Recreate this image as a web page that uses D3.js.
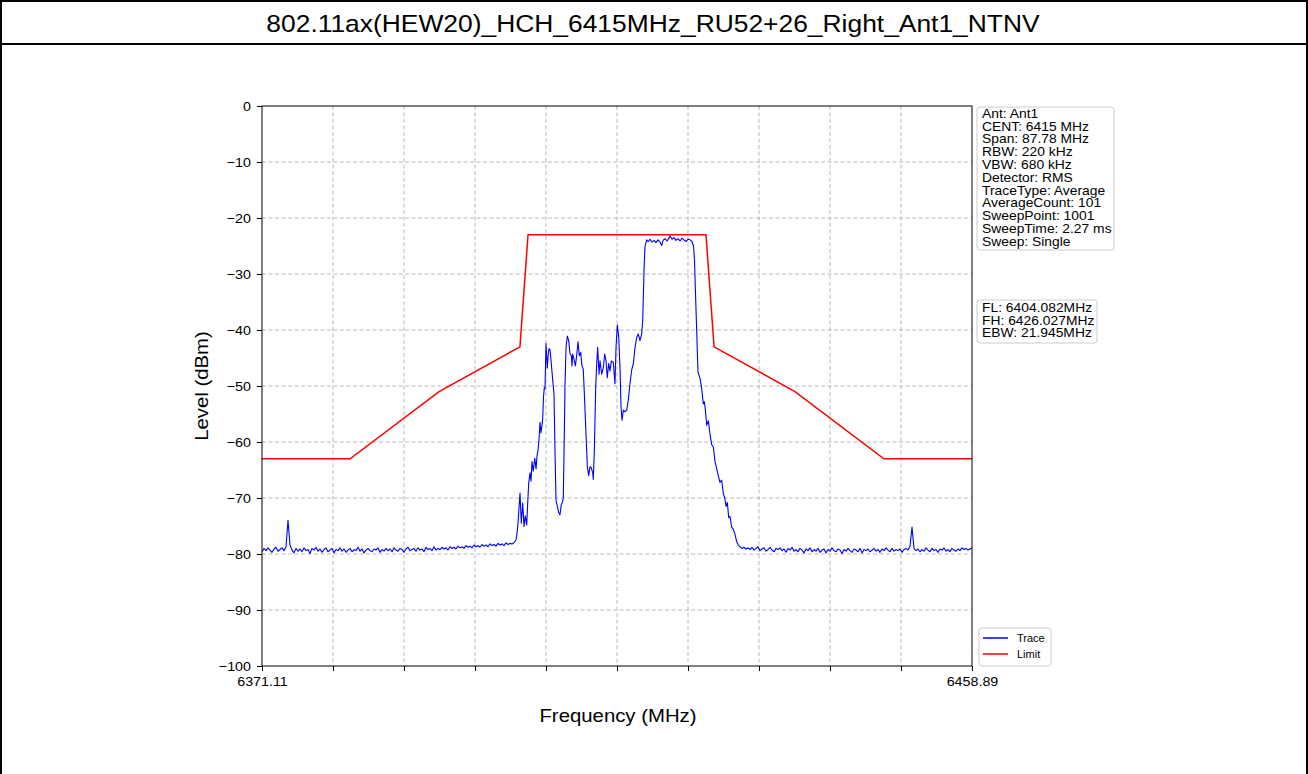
<!DOCTYPE html>
<html><head><meta charset="utf-8">
<script src="https://cdn.jsdelivr.net/npm/d3@7"></script>
<style>
body{margin:0;background:#fff;}
svg{display:block;}
text{font-family:"Liberation Sans",Arial,sans-serif;fill:#000;}
</style>
</head><body>
<svg id="c" width="1308" height="774"></svg>
<script>
// ---------------- data ----------------
const titleText = "802.11ax(HEW20)_HCH_6415MHz_RU52+26_Right_Ant1_NTNV";
const xLabel = "Frequency (MHz)";
const yLabel = "Level (dBm)";
const freqMin = 6371.11, freqMax = 6458.89;
const levelMin = -100, levelMax = 0;
const xTickCount = 11;
const xTickLabels = ["6371.11", "6458.89"];
const yTicks = [0, -10, -20, -30, -40, -50, -60, -70, -80, -90, -100];

const limitFreq  = [6371.11, 6382.0, 6393.0, 6403.0, 6404.0, 6426.0, 6427.0, 6437.0, 6448.0, 6458.89];
const limitLevel = [-63, -63, -51, -43, -23, -23, -43, -51, -63, -63];

const floorLowStart = 6371.11, floorLowEnd = 6401.77;
const floorLowLevels = [
-79.6,-79.0,-79.4,-78.9,-79.3,-79.7,-79.1,-78.8,-79.5,-79.2,-78.9,-79.4,-78.7,-74.0,-78.4,-79.3,-79.8,-79.0,-79.5,-79.1,
-79.6,-78.9,-79.4,-79.2,-79.9,-79.0,-79.3,-78.8,-79.5,-79.1,-79.7,-79.2,-78.9,-79.6,-79.3,-79.0,-79.8,-79.2,-79.4,-78.9,
-79.5,-79.1,-79.7,-79.3,-79.0,-79.6,-79.2,-79.4,-78.8,-79.5,-79.1,-79.8,-79.3,-79.0,-79.4,-79.6,-79.1,-79.3,-78.9,-79.7,
-79.2,-79.5,-79.0,-79.4,-79.1,-79.6,-78.9,-79.3,-79.5,-79.0,-79.2,-79.7,-79.1,-78.8,-79.4,-79.2,-79.0,-79.5,-78.9,-79.3,
-79.1,-79.6,-78.8,-79.2,-79.0,-79.4,-78.7,-79.3,-79.0,-79.2,-78.8,-79.1,-78.9,-79.3,-78.7,-79.0,-78.8,-79.1,-78.6,-78.9,
-78.7,-79.0,-78.5,-78.8,-78.6,-78.9,-78.4,-78.7,-78.5,-78.8,-78.3,-78.6,-78.4,-78.7,-78.2,-78.5,-78.3,-78.6,-78.1,-78.4,
-78.2,-78.5,-78.0,-78.3,-78.1];

const signalFreq = [
6402.02,6402.27,6402.51,6402.64,6402.76,6403.01,6403.17,6403.34,6403.50,6403.66,6403.84,6403.94,6404.08,6404.24,6404.37,
6404.49,6404.65,6404.83,6404.99,6405.11,6405.23,6405.36,6405.48,6405.60,6405.81,6405.91,6406.01,6406.10,6406.22,6406.38,
6406.49,6406.59,6406.72,6406.84,6407.05,6407.21,6407.34,6407.46,6407.62,6407.79,6407.95,6408.11,6408.29,6408.36,6408.45,
6408.57,6408.70,6408.86,6409.03,6409.19,6409.35,6409.44,6409.52,6409.68,6409.85,6410.02,6410.18,6410.34,6410.51,6410.67,
6410.83,6410.96,6411.13,6411.33,6411.50,6411.66,6411.82,6412.00,6412.07,6412.19,6412.37,6412.49,6412.61,6412.78,6412.90,
6413.11,6413.31,6413.48,6413.64,6413.80,6413.97,6414.14,6414.30,6414.54,6414.75,6414.88,6415.04,6415.21,6415.37,6415.50,
6415.62,6415.78,6415.99,6416.20,6416.40,6416.61,6416.82,6417.02,6417.23,6417.44,6417.63,6417.84,6418.05,6418.18,6418.34,
6418.46,6418.67,6418.83,6419.08,6419.33,6419.58,6419.82,6420.07,6420.32,6420.53,6420.69,6420.94,6421.18,6421.43,6421.55,
6421.80,6422.05,6422.29,6422.54,6422.79,6423.04,6423.28,6423.53,6423.78,6424.03,6424.27,6424.46,6424.58,6424.68,6424.85,
6425.01,6425.26,6425.47,6425.67,6425.79,6425.92,6426.09,6426.29,6426.50,6426.71,6426.91,6427.12,6427.33,6427.52,6427.73,
6427.94,6428.14,6428.32,6428.48,6428.64,6428.81,6428.97,6429.18,6429.38,6429.59,6429.80,6430.00,6430.21,6430.45,6430.70,
6430.95];
const signalLevel = [
-78.2,-78.0,-77.5,-76.3,-74.5,-69.1,-74.5,-70.9,-75.1,-73.2,-74.8,-71.5,-67.4,-65.5,-67.0,
-63.5,-65.2,-62.9,-64.8,-62.5,-61.5,-59.5,-56.5,-58.4,-56.0,-52.0,-50.3,-50.5,-42.4,-46.8,
-44.5,-43.3,-43.6,-45.4,-48.9,-51.5,-62.0,-70.4,-71.5,-72.6,-73.0,-71.2,-70.6,-70.0,-62.0,
-50.1,-43.0,-41.1,-41.9,-44.2,-44.6,-46.4,-44.3,-45.2,-46.4,-44.5,-42.1,-44.6,-44.0,-46.4,
-47.0,-51.3,-57.3,-64.4,-66.0,-64.4,-64.6,-65.5,-66.7,-62.0,-50.1,-46.0,-43.1,-47.9,-45.5,
-47.9,-46.7,-44.3,-45.5,-48.5,-46.0,-47.3,-45.5,-45.8,-49.6,-43.1,-39.1,-41.2,-46.7,-53.7,
-56.1,-54.3,-54.6,-54.3,-52.5,-49.5,-47.1,-46.0,-43.1,-41.3,-40.7,-41.9,-40.7,-38.2,-29.3,
-25.1,-23.9,-24.2,-23.8,-24.3,-24.0,-24.4,-23.9,-24.3,-24.9,-24.0,-23.7,-24.1,-23.6,-23.2,
-23.8,-23.5,-24.0,-23.7,-24.1,-23.6,-23.9,-24.2,-23.8,-23.9,-24.2,-25.0,-27.5,-32.3,-40.0,
-47.5,-48.6,-50.5,-53.2,-52.8,-54.2,-57.0,-56.2,-58.6,-60.5,-60.9,-63.5,-64.8,-66.0,-67.2,
-66.8,-69.2,-70.0,-71.5,-70.8,-73.5,-73.3,-75.2,-75.6,-76.5,-77.8,-78.4,-78.7,-79.0,-78.8,
-79.1];

const floorHighStart = 6431.20, floorHighEnd = 6458.89;
const floorHighLevels = [
-78.9,-79.2,-78.8,-79.3,-79.0,-78.7,-79.4,-79.1,-78.9,-79.5,-79.2,-78.8,-79.3,-79.6,-79.0,-79.2,-78.9,-79.4,-79.1,-79.7,
-79.0,-79.3,-78.8,-79.5,-79.2,-79.6,-79.0,-79.3,-79.8,-79.1,-79.4,-78.9,-79.6,-79.2,-79.5,-79.0,-79.7,-79.3,-79.1,-79.8,
-79.2,-79.5,-78.9,-79.4,-79.6,-79.1,-79.3,-79.9,-79.2,-79.5,-79.0,-79.4,-79.7,-79.1,-79.3,-79.6,-79.0,-79.8,-79.2,-79.4,
-79.1,-79.6,-79.3,-79.0,-79.5,-79.2,-79.7,-79.1,-79.4,-78.9,-79.3,-79.6,-79.0,-79.5,-79.2,-79.4,-79.1,-79.7,-79.2,-79.0,
-79.3,-78.6,-75.2,-79.0,-79.4,-79.1,-79.6,-79.2,-79.5,-78.9,-79.3,-79.6,-79.0,-79.4,-79.2,-79.7,-79.1,-79.3,-78.9,-79.5,
-79.2,-79.6,-79.0,-79.3,-79.5,-79.1,-79.4,-78.9,-79.2,-79.0,-79.3,-79.1,-78.9];

const infoLines = ["Ant: Ant1","CENT: 6415 MHz","Span: 87.78 MHz","RBW: 220 kHz","VBW: 680 kHz","Detector: RMS",
  "TraceType: Average","AverageCount: 101","SweepPoint: 1001","SweepTime: 2.27 ms","Sweep: Single"];
const bwLines = ["FL: 6404.082MHz","FH: 6426.027MHz","EBW: 21.945MHz"];
const legendNames = ["Trace","Limit"];
const seriesColors = ["#0000ff","#ff0000"];

// ---------------- layout ----------------
const W = 1308, H = 774;
const plot = {left: 262, right: 972, top: 106, bottom: 666};
const SX = 1.1; // horizontal glyph stretch

const svg = d3.select("#c");

function stretched(sel, sx) {
  sel.each(function() {
    const t = d3.select(this);
    const x0 = +t.attr("x") || 0;
    t.attr("transform", `translate(${x0},0) scale(${sx},1) translate(${-x0},0)`);
  });
}

// outer frame
const frame = svg.append("g").attr("stroke", "#000").attr("stroke-width", 2);
frame.append("line").attr("x1", 0).attr("x2", W).attr("y1", 1).attr("y2", 1);
frame.append("line").attr("x1", 0).attr("x2", W).attr("y1", 44).attr("y2", 44);
frame.append("line").attr("x1", 1).attr("x2", 1).attr("y1", 0).attr("y2", H);
frame.append("line").attr("x1", W - 1).attr("x2", W - 1).attr("y1", 0).attr("y2", H);

// title
svg.append("text").attr("x", 653).attr("y", 32).attr("text-anchor", "middle")
  .style("font-size", "24px").text(titleText).call(stretched, SX);

const x = d3.scaleLinear().domain([freqMin, freqMax]).range([plot.left, plot.right]);
const y = d3.scaleLinear().domain([levelMin, levelMax]).range([plot.bottom, plot.top]);
const xTicks = d3.range(xTickCount).map(i => freqMin + i * (freqMax - freqMin) / (xTickCount - 1));

// grid
const grid = svg.append("g").attr("stroke", "#a8a8a8").attr("stroke-width", 0.8).attr("stroke-dasharray", "4,2.5");
grid.selectAll(".gx").data(xTicks.slice(1, -1)).join("line")
  .attr("x1", d => x(d)).attr("x2", d => x(d)).attr("y1", plot.top).attr("y2", plot.bottom);
grid.selectAll(".gy").data(yTicks.filter(d => d !== levelMin && d !== levelMax)).join("line")
  .attr("y1", d => y(d)).attr("y2", d => y(d)).attr("x1", plot.left).attr("x2", plot.right);

// data lines
const trace = [];
floorLowLevels.forEach((v, i) => trace.push([floorLowStart + i * (floorLowEnd - floorLowStart) / (floorLowLevels.length - 1), v]));
signalLevel.forEach((v, i) => trace.push([signalFreq[i], v]));
floorHighLevels.forEach((v, i) => trace.push([floorHighStart + i * (floorHighEnd - floorHighStart) / (floorHighLevels.length - 1), v]));
const limit = limitFreq.map((f, i) => [f, limitLevel[i]]);

svg.append("clipPath").attr("id", "clip").append("rect")
  .attr("x", plot.left).attr("y", plot.top).attr("width", plot.right - plot.left).attr("height", plot.bottom - plot.top);
const line = d3.line().x(d => x(d[0])).y(d => y(d[1]));
const lines = svg.append("g").attr("clip-path", "url(#clip)");
lines.append("path").datum(trace).attr("d", line).attr("fill", "none")
  .attr("stroke", seriesColors[0]).attr("stroke-width", 1.1).attr("stroke-linejoin", "round");
lines.append("path").datum(limit).attr("d", line).attr("fill", "none")
  .attr("stroke", seriesColors[1]).attr("stroke-width", 1.5);

// axes
const yAxis = svg.append("g").attr("transform", `translate(${plot.left},0)`)
  .call(d3.axisLeft(y).tickValues(yTicks).tickSize(5).tickPadding(6).tickFormat(d3.format("d")));
const xAxis = svg.append("g").attr("transform", `translate(0,${plot.bottom})`)
  .call(d3.axisBottom(x).tickValues(xTicks).tickSize(5).tickPadding(6)
    .tickFormat((d, i) => i === 0 ? xTickLabels[0] : (i === xTickCount - 1 ? xTickLabels[1] : "")));
[yAxis, xAxis].forEach(a => {
  a.select(".domain").remove();
  a.selectAll(".tick line").attr("stroke", "#000").attr("stroke-width", 1);
  a.selectAll("text").style("font-size", "13px").style("font-family", '"Liberation Sans",Arial,sans-serif').call(stretched, SX);
});
// frame box
svg.append("rect").attr("x", plot.left).attr("y", plot.top).attr("width", plot.right - plot.left)
  .attr("height", plot.bottom - plot.top).attr("fill", "none").attr("stroke", "#000").attr("stroke-width", 1);

// axis labels
svg.append("text").attr("x", 618).attr("y", 722).attr("text-anchor", "middle")
  .style("font-size", "18.5px").text(xLabel).call(stretched, SX);
svg.append("g").attr("transform", `translate(208,${(plot.top + plot.bottom) / 2}) rotate(-90)`)
  .append("text").attr("x", 0).attr("y", 0).attr("text-anchor", "middle")
  .style("font-size", "18.5px").text(yLabel).call(stretched, SX);

// info boxes
function infoBox(lines, bx, by, bw, bh, firstCenter, step, fs) {
  const g = svg.append("g");
  g.append("rect").attr("x", bx).attr("y", by).attr("width", bw).attr("height", bh).attr("rx", 3)
    .attr("fill", "#fff").attr("stroke", "#cccccc").attr("stroke-width", 1);
  g.selectAll("text").data(lines).join("text").attr("x", bx + 5).attr("y", (d, i) => firstCenter + i * step)
    .attr("dominant-baseline", "central").style("font-size", fs + "px").text(d => d).call(stretched, SX);
}
infoBox(infoLines, 977, 107, 137, 143, 113.6, 12.8, 12.6);
infoBox(bwLines, 977, 300, 120, 43, 307.6, 12.8, 12.6);

// legend
const lg = svg.append("g");
lg.append("rect").attr("x", 979).attr("y", 628).attr("width", 72).attr("height", 38).attr("rx", 3)
  .attr("fill", "#fff").attr("stroke", "#cccccc");
legendNames.forEach((n, i) => {
  const cy = 638 + i * 16;
  lg.append("line").attr("x1", 983).attr("x2", 1008).attr("y1", cy).attr("y2", cy)
    .attr("stroke", seriesColors[i]).attr("stroke-width", 1.5);
  lg.append("text").attr("x", 1017).attr("y", cy).attr("dominant-baseline", "central")
    .style("font-size", "10px").text(n).call(stretched, SX);
});
</script>
</body></html>
